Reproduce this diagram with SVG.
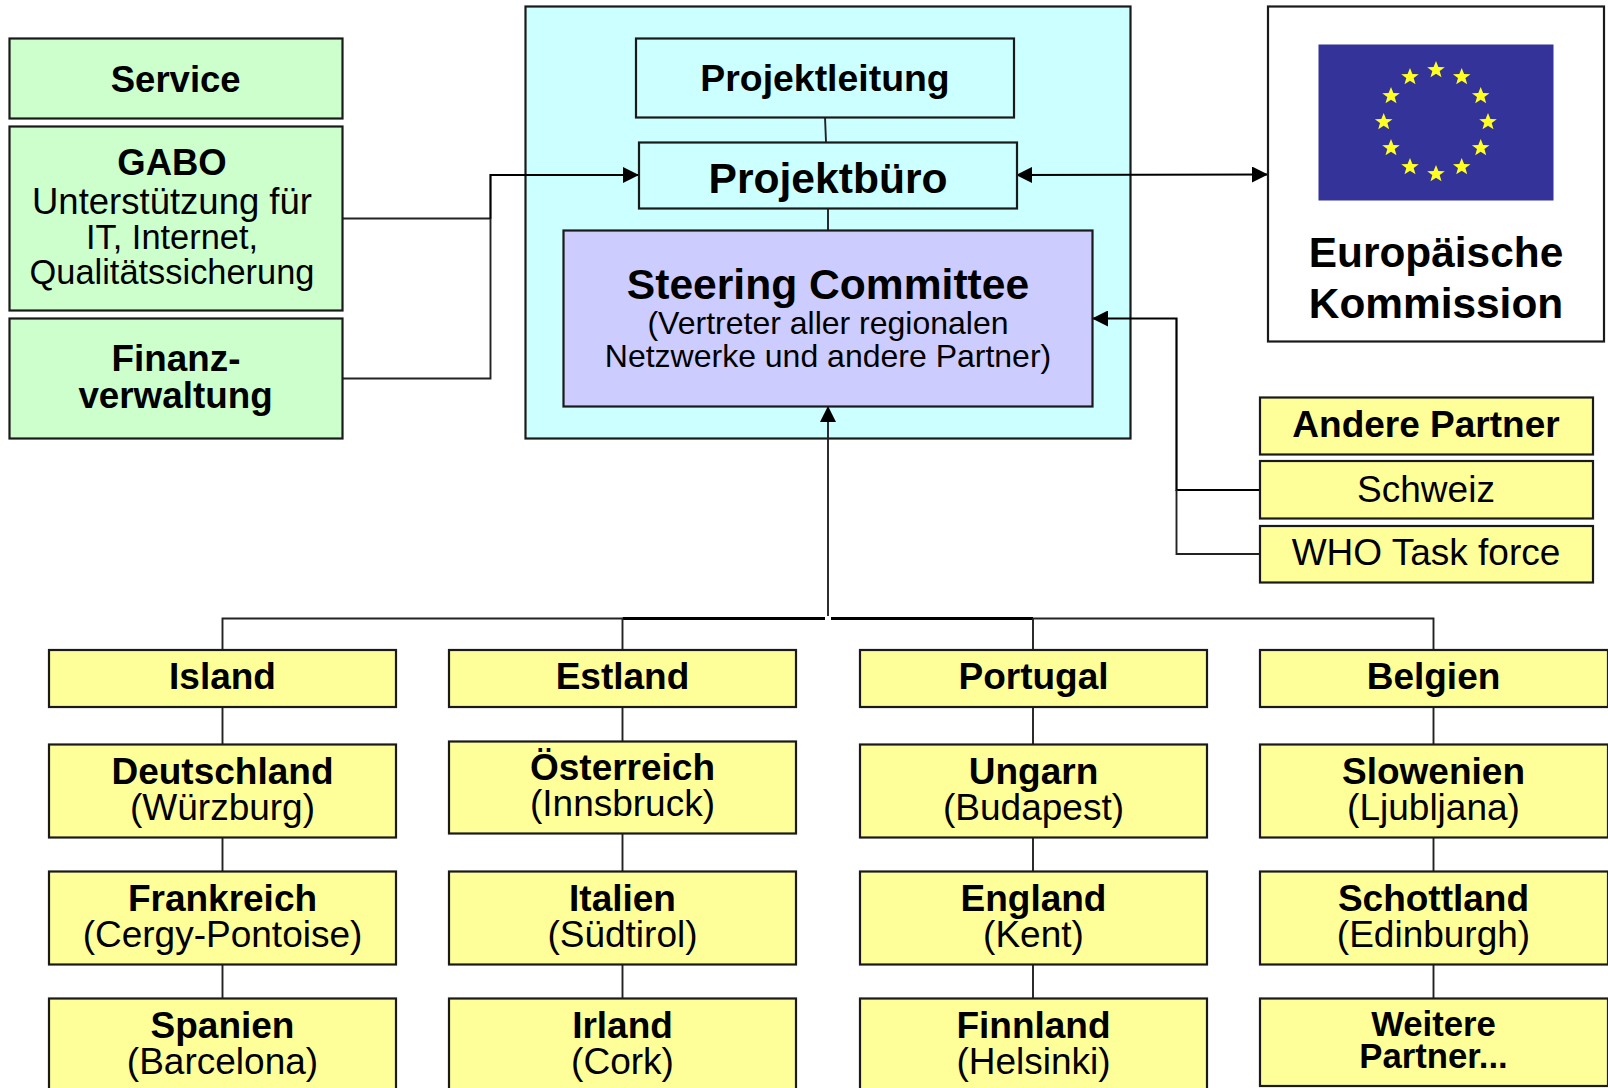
<svg xmlns="http://www.w3.org/2000/svg" width="1608" height="1088" viewBox="0 0 1608 1088">
<style>
text{font-family:"Liberation Sans",Arial,sans-serif;text-anchor:middle;fill:#000}
.b{font-weight:bold}
.box{stroke:#1a1a1a;stroke-width:2.2}
.y{fill:#ffff99}.g{fill:#ccffcc}.c{fill:#ccffff}.v{fill:#ccccff}.w{fill:#fff}
.l{fill:none;stroke:#222;stroke-width:1.9}
.m{fill:none;stroke:#000;stroke-width:2.2}
.t{fill:none;stroke:#000;stroke-width:3}
.s37{font-size:37px}.s32{font-size:32px}.s425{font-size:42.600px}
</style>
<defs>
<marker id="a" markerUnits="userSpaceOnUse" markerWidth="16" markerHeight="16" refX="15" refY="8" orient="auto-start-reverse"><path d="M0 0L16 8L0 16Z" fill="#000"/></marker>
<polygon id="st" points="0,-9 2.400,-3 8.800,-2.800 3.700,1.100 5.500,7.300 0,3.700 -5.500,7.300 -3.700,1.100 -8.800,-2.800 -2.400,-3" fill="#ffff22"/>
</defs>
<g id="projekt-rahmen"><rect class="box c" x="525.500" y="6.500" width="605" height="432"/></g>
<g id="connectors">
<path class="l" d="M342 378.500H490.500V218"/>
<path class="l" d="M342 218.500H490.500"/>
<path class="m" d="M490.500 218.500V175H638" marker-end="url(#a)"/>
<path class="m" d="M1017 175L1267 174.500" marker-start="url(#a)" marker-end="url(#a)"/>
<path class="l" d="M825 117L826 142M828 208V230"/>
<path class="m" d="M1259 490H1176.500V318.500H1093" marker-end="url(#a)"/>
<path class="l" d="M1259 554H1176.500V490"/>
<path class="l" d="M828 616V407" marker-end="url(#a)"/>
<path class="l" d="M222.500 650V618.500H622.500M1033 618.500H1433.500V650"/>
<path class="t" d="M622.500 618.500H825M831 618.500H1033"/>
<path class="l" d="M622.500 618.500V650M1033 618.500V650"/>
<path class="l" d="M222.500 707V744M222.500 837V871M222.500 964V998M622.500 707V741M622.500 834V871M622.500 964V998M1033 707V744M1033 837V871M1033 964V998M1433.500 707V744M1433.500 837V871M1433.500 964V998"/>
</g>
<g id="service"><rect class="box g" x="9.500" y="38.500" width="333" height="80"/><text class="b" style="font-size:36.500px" x="175.700" y="92">Service</text></g>
<g id="gabo"><rect class="box g" x="9.500" y="126.500" width="333" height="184"/><text class="b" style="font-size:36.500px" x="172" y="175">GABO</text><text style="font-size:36.500px" x="172" y="213.500">Unterstützung für</text><text style="font-size:34.400px" x="172" y="249">IT, Internet,</text><text style="font-size:34.400px" x="172" y="284">Qualitätssicherung</text></g>
<g id="finanz"><rect class="box g" x="9.500" y="318.500" width="333" height="120"/><text class="b" style="font-size:36.800px" x="176" y="371">Finanz-</text><text class="b" style="font-size:36.800px" x="175.500" y="407.500">verwaltung</text></g>
<g id="projektleitung"><rect class="box c" x="636" y="38.500" width="378" height="79"/><text class="b s37" style="font-size:37.400px" x="825" y="90.500">Projektleitung</text></g>
<g id="projektbuero"><rect class="box c" x="639" y="142.500" width="378" height="66"/><text class="b s425" x="828" y="192.500">Projektbüro</text></g>
<g id="steering"><rect class="box v" x="563.500" y="230.500" width="529" height="176"/><text class="b s425" x="828" y="299">Steering Committee</text><text class="s32" x="828" y="334">(Vertreter aller regionalen</text><text class="s32" x="828" y="367">Netzwerke und andere Partner)</text></g>
<g id="eu"><rect class="box w" x="1268" y="6.500" width="336" height="335"/>
<rect x="1318.500" y="44.500" width="235" height="156" fill="#333399"/>
<use href="#st" x="1436" y="70"/><use href="#st" x="1461.700" y="77"/><use href="#st" x="1480.700" y="96"/><use href="#st" x="1488" y="122"/><use href="#st" x="1480.700" y="148"/><use href="#st" x="1461.700" y="167"/><use href="#st" x="1436" y="174"/><use href="#st" x="1410" y="167"/><use href="#st" x="1391" y="148"/><use href="#st" x="1383.700" y="122"/><use href="#st" x="1391" y="96"/><use href="#st" x="1410" y="77"/>
<text class="b" style="font-size:42.400px" x="1436" y="267">Europäische</text><text class="b" style="font-size:42.400px" x="1436" y="318">Kommission</text></g>
<g id="andere"><rect class="box y" x="1260" y="397.500" width="333" height="57"/><text class="b s37" x="1426" y="437">Andere Partner</text></g>
<g id="schweiz"><rect class="box y" x="1260" y="461" width="333" height="57.500"/><text class="s37" x="1426" y="501.500">Schweiz</text></g>
<g id="who"><rect class="box y" x="1260" y="526" width="333" height="56.500"/><text class="s37" x="1426" y="565">WHO Task force</text></g>
<g id="island"><rect class="box y" x="49" y="650" width="347" height="57"/><text class="b s37" x="222.500" y="689">Island</text></g>
<g id="deutschland"><rect class="box y" x="49" y="744.500" width="347" height="93"/><text class="b s37" x="222.500" y="784">Deutschland</text><text class="s37" x="222.500" y="820">(Würzburg)</text></g>
<g id="frankreich"><rect class="box y" x="49" y="871.500" width="347" height="93"/><text class="b s37" x="222.500" y="911">Frankreich</text><text class="s37" x="222.500" y="947">(Cergy-Pontoise)</text></g>
<g id="spanien"><rect class="box y" x="49" y="998.500" width="347" height="100"/><text class="b s37" x="222.500" y="1038">Spanien</text><text class="s37" x="222.500" y="1074">(Barcelona)</text></g>
<g id="estland"><rect class="box y" x="449" y="650" width="347" height="57"/><text class="b s37" x="622.500" y="689">Estland</text></g>
<g id="oesterreich"><rect class="box y" x="449" y="741.500" width="347" height="92"/><text class="b s37" x="622.500" y="780">Österreich</text><text class="s37" x="622.500" y="816">(Innsbruck)</text></g>
<g id="italien"><rect class="box y" x="449" y="871.500" width="347" height="93"/><text class="b s37" x="622.500" y="911">Italien</text><text class="s37" x="622.500" y="947">(Südtirol)</text></g>
<g id="irland"><rect class="box y" x="449" y="998.500" width="347" height="100"/><text class="b s37" x="622.500" y="1038">Irland</text><text class="s37" x="622.500" y="1074">(Cork)</text></g>
<g id="portugal"><rect class="box y" x="860" y="650" width="347" height="57"/><text class="b s37" x="1033.500" y="689">Portugal</text></g>
<g id="ungarn"><rect class="box y" x="860" y="744.500" width="347" height="93"/><text class="b s37" x="1033.500" y="784">Ungarn</text><text class="s37" x="1033.500" y="820">(Budapest)</text></g>
<g id="england"><rect class="box y" x="860" y="871.500" width="347" height="93"/><text class="b s37" x="1033.500" y="911">England</text><text class="s37" x="1033.500" y="947">(Kent)</text></g>
<g id="finnland"><rect class="box y" x="860" y="998.500" width="347" height="100"/><text class="b s37" x="1033.500" y="1038">Finnland</text><text class="s37" x="1033.500" y="1074">(Helsinki)</text></g>
<g id="belgien"><rect class="box y" x="1260" y="650" width="348" height="57"/><text class="b s37" x="1433.500" y="689">Belgien</text></g>
<g id="slowenien"><rect class="box y" x="1260" y="744.500" width="348" height="93"/><text class="b s37" x="1433.500" y="784">Slowenien</text><text class="s37" x="1433.500" y="820">(Ljubljana)</text></g>
<g id="schottland"><rect class="box y" x="1260" y="871.500" width="348" height="93"/><text class="b s37" x="1433.500" y="911">Schottland</text><text class="s37" x="1433.500" y="947">(Edinburgh)</text></g>
<g id="weitere"><rect class="box y" x="1260" y="998.500" width="348" height="87.500"/><text class="b" style="font-size:34.700px" x="1433.500" y="1036">Weitere</text><text class="b" style="font-size:34.700px" x="1433.500" y="1068">Partner...</text></g>
</svg>
